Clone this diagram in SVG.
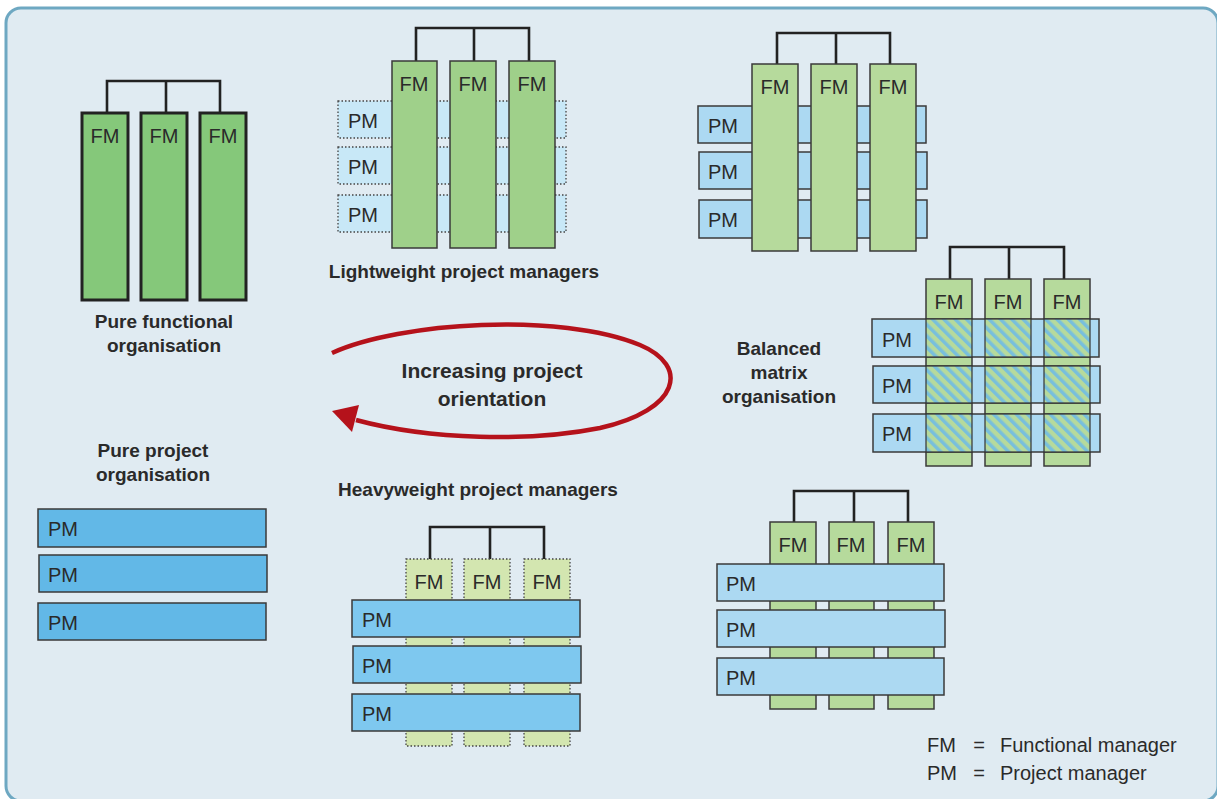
<svg xmlns="http://www.w3.org/2000/svg" width="1217" height="799" viewBox="0 0 1217 799">
<style>
text{font-family:"Liberation Sans",Arial,sans-serif;fill:#2a2a2a}
.lbl{font-size:19px;font-weight:bold;text-anchor:middle}
.big{font-size:21px;font-weight:bold;text-anchor:middle}
.t{font-size:20px}
.fmt{font-size:20px;text-anchor:middle}
.leg{font-size:20px}
.box{stroke:#3a3a3a;stroke-width:1.5}
.thick{stroke:#222;stroke-width:3}
.dot{stroke:#444;stroke-width:1.3;stroke-dasharray:1.5 2}
.con{fill:none;stroke:#222;stroke-width:2.6}
.g1{fill:#85c87a}.g2{fill:#9fd08a}.g3{fill:#b6da9c}.g4{fill:#d3e6b0}
.b1{fill:#62b8e7}.b2{fill:#c8e8f7}.b3{fill:#acd9f2}.b4{fill:#7ec8ef}
.hatch{fill:url(#hp);stroke:#333;stroke-width:1.2}
</style>
<defs>
<pattern id="hp" width="8" height="8" patternUnits="userSpaceOnUse" patternTransform="rotate(-45)">
<rect width="8" height="8" fill="#b6da9c"/>
<rect width="3.5" height="8" fill="#78bfdc"/>
</pattern>
</defs>
<rect x="6" y="8" width="1212" height="793" rx="15" fill="#e0ebf2" stroke="#6ea8c2" stroke-width="3"/>

<g id="connectors">
<path class="con" d="M107,113V81H220V113M166,81V113"/>
<path class="con" d="M416,61V28H529V61M474,28V61"/>
<path class="con" d="M777,64V33H890V64M836,33V64"/>
<path class="con" d="M950,279V247H1064V279M1009,247V279"/>
<path class="con" d="M430,559V527H544V559M490,527V559"/>
<path class="con" d="M794,522V491H908V522M854,491V522"/>
<path d="M332,353 C400,322 560,312 640,345 C690,366 680,410 600,428 C530,442 430,440 356,420" fill="none" stroke="#b5121b" stroke-width="4.5"/>
<polygon points="332,411 359,405 352,432" fill="#b5121b"/>
</g>

<g id="pure-functional">
<rect class="g1 thick" x="82" y="113" width="46" height="187"/>
<rect class="g1 thick" x="141" y="113" width="46" height="187"/>
<rect class="g1 thick" x="200" y="113" width="46" height="187"/>
<text class="fmt" x="105" y="143">FM</text>
<text class="fmt" x="164" y="143">FM</text>
<text class="fmt" x="223" y="143">FM</text>
<text class="lbl" x="164" y="328">Pure functional</text>
<text class="lbl" x="164" y="352">organisation</text>
</g>

<g id="lightweight">
<rect class="b2 dot" x="338" y="101" width="228" height="37"/>
<rect class="b2 dot" x="338" y="147" width="228" height="37"/>
<rect class="b2 dot" x="338" y="195" width="228" height="37"/>
<rect class="g2 box" x="392" y="61" width="45" height="187"/>
<rect class="g2 box" x="450" y="61" width="46" height="187"/>
<rect class="g2 box" x="509" y="61" width="46" height="187"/>
<text class="fmt" x="414" y="91">FM</text>
<text class="fmt" x="473" y="91">FM</text>
<text class="fmt" x="532" y="91">FM</text>
<text class="t" x="348" y="128">PM</text>
<text class="t" x="348" y="174">PM</text>
<text class="t" x="348" y="222">PM</text>
<text class="lbl" x="464" y="278">Lightweight project managers</text>
</g>

<g id="functional-matrix">
<rect class="b3 box" x="698" y="106" width="228" height="37"/>
<rect class="b3 box" x="699" y="152" width="228" height="37"/>
<rect class="b3 box" x="699" y="200" width="228" height="38"/>
<rect class="g3 box" x="752" y="64" width="46" height="187"/>
<rect class="g3 box" x="811" y="64" width="46" height="187"/>
<rect class="g3 box" x="870" y="64" width="46" height="187"/>
<text class="fmt" x="775" y="94">FM</text>
<text class="fmt" x="834" y="94">FM</text>
<text class="fmt" x="893" y="94">FM</text>
<text class="t" x="708" y="133">PM</text>
<text class="t" x="708" y="179">PM</text>
<text class="t" x="708" y="227">PM</text>
</g>

<g id="balanced-matrix">
<rect class="g3 box" x="926" y="279" width="46" height="187"/>
<rect class="g3 box" x="985" y="279" width="46" height="187"/>
<rect class="g3 box" x="1044" y="279" width="46" height="187"/>
<rect class="b3 box" x="872" y="319" width="227" height="38"/>
<rect class="b3 box" x="873" y="366" width="227" height="37"/>
<rect class="b3 box" x="873" y="414" width="227" height="38"/>
<rect class="hatch" x="926" y="319" width="46" height="38"/>
<rect class="hatch" x="985" y="319" width="46" height="38"/>
<rect class="hatch" x="1044" y="319" width="46" height="38"/>
<rect class="hatch" x="926" y="366" width="46" height="37"/>
<rect class="hatch" x="985" y="366" width="46" height="37"/>
<rect class="hatch" x="1044" y="366" width="46" height="37"/>
<rect class="hatch" x="926" y="414" width="46" height="38"/>
<rect class="hatch" x="985" y="414" width="46" height="38"/>
<rect class="hatch" x="1044" y="414" width="46" height="38"/>
<text class="fmt" x="949" y="309">FM</text>
<text class="fmt" x="1008" y="309">FM</text>
<text class="fmt" x="1067" y="309">FM</text>
<text class="t" x="882" y="347">PM</text>
<text class="t" x="882" y="393">PM</text>
<text class="t" x="882" y="441">PM</text>
<text class="lbl" x="779" y="355">Balanced</text>
<text class="lbl" x="779" y="379">matrix</text>
<text class="lbl" x="779" y="403">organisation</text>
</g>

<g id="orientation">
<text class="big" x="492" y="378">Increasing project</text>
<text class="big" x="492" y="406">orientation</text>
</g>

<g id="pure-project">
<text class="lbl" x="153" y="457">Pure project</text>
<text class="lbl" x="153" y="481">organisation</text>
<rect class="b1 box" x="38" y="509" width="228" height="38"/>
<rect class="b1 box" x="39" y="555" width="228" height="37"/>
<rect class="b1 box" x="38" y="603" width="228" height="37"/>
<text class="t" x="48" y="536">PM</text>
<text class="t" x="48" y="582">PM</text>
<text class="t" x="48" y="630">PM</text>
</g>

<g id="heavyweight">
<text class="lbl" x="478" y="496">Heavyweight project managers</text>
<rect class="g4 dot" x="406" y="559" width="46" height="187"/>
<rect class="g4 dot" x="464" y="559" width="46" height="187"/>
<rect class="g4 dot" x="524" y="559" width="46" height="187"/>
<rect class="b4 box" x="352" y="600" width="228" height="37"/>
<rect class="b4 box" x="353" y="646" width="228" height="37"/>
<rect class="b4 box" x="352" y="694" width="228" height="37"/>
<text class="fmt" x="429" y="589">FM</text>
<text class="fmt" x="487" y="589">FM</text>
<text class="fmt" x="547" y="589">FM</text>
<text class="t" x="362" y="627">PM</text>
<text class="t" x="362" y="673">PM</text>
<text class="t" x="362" y="721">PM</text>
</g>

<g id="project-matrix">
<rect class="g3 box" x="770" y="522" width="46" height="187"/>
<rect class="g3 box" x="829" y="522" width="45" height="187"/>
<rect class="g3 box" x="888" y="522" width="46" height="187"/>
<rect class="b3 box" x="717" y="564" width="227" height="37"/>
<rect class="b3 box" x="717" y="610" width="228" height="37"/>
<rect class="b3 box" x="717" y="658" width="227" height="37"/>
<text class="fmt" x="793" y="552">FM</text>
<text class="fmt" x="851" y="552">FM</text>
<text class="fmt" x="911" y="552">FM</text>
<text class="t" x="726" y="591">PM</text>
<text class="t" x="726" y="637">PM</text>
<text class="t" x="726" y="685">PM</text>
</g>

<g id="legend">
<text class="leg" x="927" y="752">FM</text>
<text class="leg" x="979" y="752" text-anchor="middle">=</text>
<text class="leg" x="1000" y="752">Functional manager</text>
<text class="leg" x="927" y="780">PM</text>
<text class="leg" x="979" y="780" text-anchor="middle">=</text>
<text class="leg" x="1000" y="780">Project manager</text>
</g>
</svg>
